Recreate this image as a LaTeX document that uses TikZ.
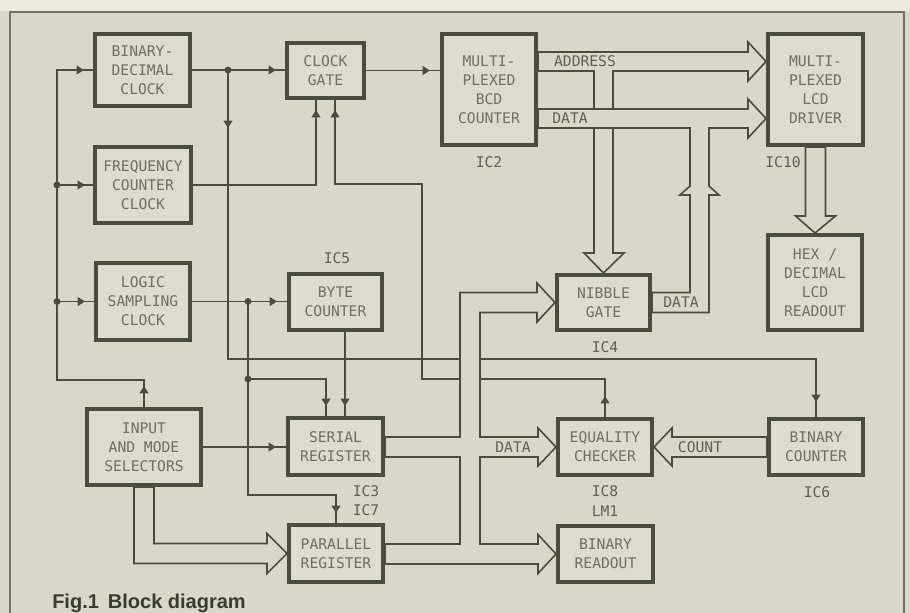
\documentclass[tikz,border=0pt]{standalone}
\usepackage{tikz}
\usepackage{fontspec}
\setmonofont{DejaVu Sans Mono}
\setsansfont{Liberation Sans}
\usetikzlibrary{arrows.meta,decorations.markings,calc}
\pgfdeclarelayer{back}
\pgfdeclarelayer{mid}
\pgfsetlayers{back,mid,main}
\definecolor{bgc}{HTML}{D9D6CA}
\definecolor{topc}{HTML}{ECE9E0}
\definecolor{boxc}{HTML}{DDDAD0}
\definecolor{linec}{HTML}{4A4C40}
\definecolor{textc}{HTML}{6E6F65}
\definecolor{labc}{HTML}{5E6055}
\definecolor{capc}{HTML}{383B31}
\definecolor{framec}{HTML}{707167}
\tikzset{
  bx/.style 2 args={draw=linec, line width=3pt, fill=boxc, minimum width=#1*0.75pt, minimum height=#2*0.75pt, inner sep=0pt, align=center, text=textc, font=\ttfamily\fontsize{11}{14.25}\selectfont},
  lab/.style={text=labc, inner sep=0pt, font=\ttfamily\fontsize{11}{14.25}\selectfont},
  wire/.style={draw=linec, line width=1.3pt},
  bus/.style={draw=linec, line width=1.2pt, fill=bgc, line join=miter},
  arrat/.style={postaction={decorate,decoration={markings,mark=at position #1 with {\arrow{Triangle[length=5.5pt,width=6.5pt]}}}}},
  dot/.style={circle, fill=linec, inner sep=0pt, minimum size=5.2pt},
}
\begin{document}
\begin{tikzpicture}[x=0.75pt,y=-0.75pt]
\useasboundingbox (0,0) rectangle (910,613);
\begin{pgfonlayer}{back}
  \fill[bgc] (0,0) rectangle (910,613);
  \fill[topc] (0,0) rectangle (910,11);
  \draw[framec, line width=0.8pt] (10,613) -- (10,12) -- (904,12) -- (904,613);
\end{pgfonlayer}

% boxes
\node[bx={95}{72}] (bdc) at (142.5,70) {BINARY-\\DECIMAL\\CLOCK};
\node[bx={96}{76}] (fcc) at (143,185) {FREQUENCY\\COUNTER\\CLOCK};
\node[bx={94}{77}] (lsc) at (143,301.5) {LOGIC\\SAMPLING\\CLOCK};
\node[bx={114}{76}] (ims) at (144,447) {INPUT\\AND MODE\\SELECTORS};
\node[bx={77}{55}] (cg) at (325.5,70.5) {CLOCK\\GATE};
\node[bx={94}{111}] (bcd) at (489,89.5) {MULTI-\\PLEXED\\BCD\\COUNTER};
\node[bx={95}{111}] (lcdd) at (815.5,89.5) {MULTI-\\PLEXED\\LCD\\DRIVER};
\node[bx={94}{95}] (hex) at (815,282.5) {HEX /\\DECIMAL\\LCD\\READOUT};
\node[bx={93}{56}] (byte) at (335.5,302) {BYTE\\COUNTER};
\node[bx={95}{57}] (ser) at (335.5,446.5) {SERIAL\\REGISTER};
\node[bx={94}{57}] (par) at (336,553.5) {PARALLEL\\REGISTER};
\node[bx={93}{55}] (nib) at (603.5,302.5) {NIBBLE\\GATE};
\node[bx={94}{56}] (eq) at (605,447) {EQUALITY\\CHECKER};
\node[bx={95}{56}] (bro) at (605.5,554) {BINARY\\READOUT};
\node[bx={94}{56}] (bcnt) at (816,447) {BINARY\\COUNTER};

% junctions
\node[dot] (j1) at (228,70) {};
\node[dot] (j4) at (57,185) {};
\node[dot] (j5) at (57,301.5) {};
\node[dot] (j2) at (248,301.5) {};
\node[dot] (j3) at (248,379) {};
\coordinate (lbt) at (57,70);

\begin{pgfonlayer}{mid}
% single wires
\draw[wire, arrat=15.75pt, arrat=-6.75pt] (ims.north) -- (ims.north |- 0,380) -| (lbt) -- (lbt -| bdc.west);
\draw[wire, arrat=-6pt] (j4.center) -- (j4 -| fcc.west);
\draw[wire, arrat=-6.75pt] (j5.center) -- (j5 -| lsc.west);
\draw[wire, arrat=-6.75pt] (bdc.east) -- (bdc.east -| cg.west);
\draw[wire, arrat=-7.5pt] (cg.east) -- (cg.east -| bcd.west);
\draw[wire, arrat=43.5pt, arrat=-11.25pt] (j1.center) -- (j1 |- 0,359) -| (bcnt.north);
\draw[wire, arrat=-7.5pt] (fcc.east) -| (cg.south -| 316,0);
\draw[wire, arrat=15.75pt, arrat=-7.5pt] (eq.north) |- (422,379) |- (335,184) -- (cg.south -| 335,0);
\draw[wire, arrat=-7.5pt] (lsc.east) -- (lsc.east -| byte.west);
\draw[wire, arrat=-7.5pt] (j2.center) |- (par.north |- 0,495) -- (par.north);
\draw[wire, arrat=-7.5pt] (j3.center) -| (ser.north -| 326,0);
\draw[wire, arrat=-7.5pt] (byte.south -| 345,0) -- (ser.north -| 345,0);
\draw[wire, arrat=-7.5pt] (ims.east) -- (ims.east -| ser.west);

% buses
\draw[bus] ($(bcd.east)+(0,-37.5)$) -- (748,52) -- (748,42) -- (lcdd.west |- 0,61.5) -- (748,81) -- (748,71)
  -- (613,71) -- (613,253) -- (624,253) -- (nib.north) -- (584,253) -- (594,253) -- (594,71)
  -- ($(bcd.east)+(0,-18.5)$) -- cycle;
\draw[bus] ($(bcd.east)+(0,19.5)$) -- (748,109) -- (748,99) -- (lcdd.west |- 0,118.5) -- (748,138) -- (748,128)
  -- (709,128) -- (709,186) -- (719,195) -- (709,195) -- (709,312.5) -- ($(nib.east)+(0,10)$)
  -- ($(nib.east)+(0,-10)$) -- (690,292.5) -- (690,195) -- (680,195) -- (690,186) -- (690,128)
  -- ($(bcd.east)+(0,38.5)$) -- cycle;
\draw[bus] ($(lcdd.south)+(-10,0)$) -- ($(lcdd.south)+(-10,69)$) -- ($(lcdd.south)+(-20,69)$) -- (hex.north)
  -- ($(lcdd.south)+(20,69)$) -- ($(lcdd.south)+(10,69)$) -- ($(lcdd.south)+(10,0)$) -- cycle;
\draw[bus] ($(ims.south)+(-10,0)$) -- (134,563.5) -- (267,563.5) -- (267,573.5) -- (par.west) -- (267,533.5)
  -- (267,543.5) -- (154,543.5) -- ($(ims.south)+(10,0)$) -- cycle;
\draw[bus] ($(bcnt.west)+(0,-10)$) -- (672,437) -- (672,428) -- (eq.east) -- (672,466) -- (672,457)
  -- ($(bcnt.west)+(0,10)$) -- cycle;
\draw[bus] (ser.east |- 0,437) -- (460,437) -- (460,292.5) -- (537,292.5) -- (537,283) -- (nib.west)
  -- (537,322) -- (537,312.5) -- (480,312.5) -- (480,437) -- (538,437) -- (538,428) -- (eq.west)
  -- (538,466) -- (538,457) -- (480,457) -- (480,544) -- (538,544) -- (538,534.5) -- (bro.west)
  -- (538,573.5) -- (538,564) -- (par.east |- 0,564) -- (par.east |- 0,544) -- (460,544)
  -- (460,457) -- (ser.east |- 0,457) -- cycle;
\end{pgfonlayer}

% labels
\node[lab] (lad) at (585,61.5) {ADDRESS};
\node[lab] (ld1) at (570,118.5) {DATA};
\node[lab] (ld2) at (681,302.5) {DATA};
\node[lab] (ld3) at (513,447) {DATA};
\node[lab] (lcnt) at (700,447) {COUNT};
\node[lab] (ic2) at (489,162) {IC2};
\node[lab] (ic10) at (783,162) {IC10};
\node[lab] (ic5) at (337,258) {IC5};
\node[lab] (ic4) at (605,347) {IC4};
\node[lab] (ic3) at (366,491) {IC3};
\node[lab] (ic7) at (366,510) {IC7};
\node[lab] (ic8) at (605,491) {IC8};
\node[lab] (lm1) at (605,511) {LM1};
\node[lab] (ic6) at (817,492) {IC6};
\node[anchor=base west, inner sep=0pt, text=capc, font=\sffamily\bfseries\fontsize{15}{18}\selectfont] (cap) at (52,608) {Fig.1\hspace{0.45em}Block diagram};
\end{tikzpicture}
\end{document}
